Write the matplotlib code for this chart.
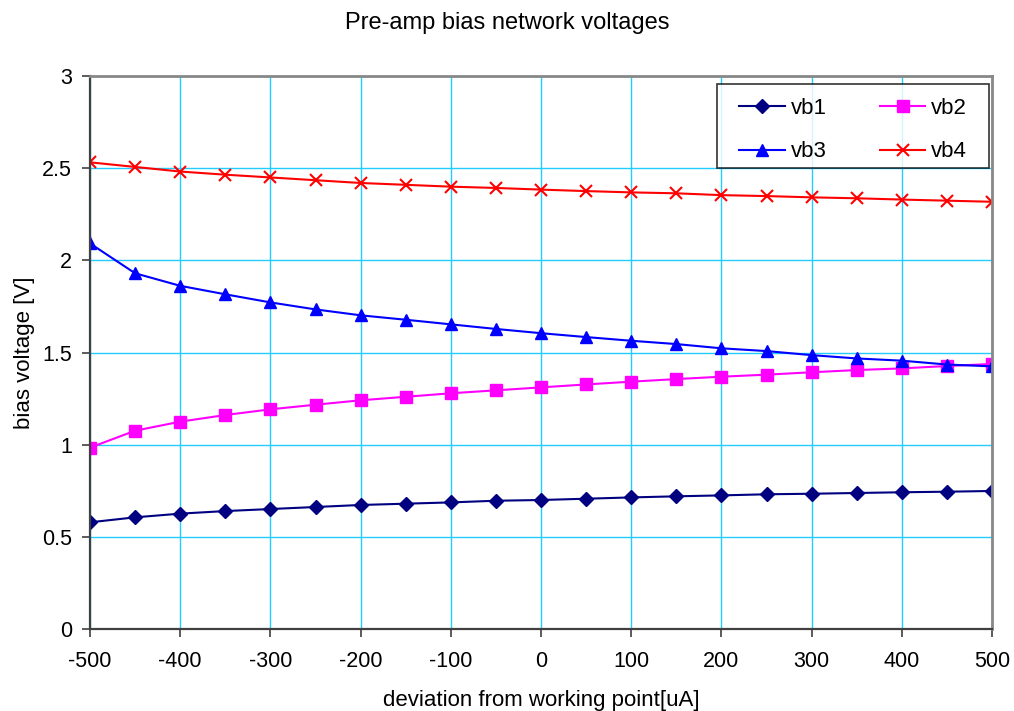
import matplotlib.pyplot as plt
from matplotlib.path import Path

plt.rcParams['font.family'] = ['Liberation Sans', 'DejaVu Sans']
plt.rcParams['axes.unicode_minus'] = False

# deviation from working point [uA]
deviation = [-500, -450, -400, -350, -300, -250, -200, -150, -100, -50, 0,
             50, 100, 150, 200, 250, 300, 350, 400, 450, 500]

# bias voltages [V]
vb1 = [0.579, 0.606, 0.626, 0.640, 0.651, 0.662, 0.673, 0.680, 0.687, 0.696, 0.700,
       0.707, 0.714, 0.720, 0.725, 0.731, 0.734, 0.738, 0.742, 0.745, 0.749]
vb2 = [0.984, 1.076, 1.125, 1.161, 1.192, 1.217, 1.241, 1.260, 1.279, 1.295, 1.311,
       1.327, 1.342, 1.356, 1.369, 1.380, 1.393, 1.405, 1.414, 1.427, 1.438]
vb3 = [2.092, 1.930, 1.862, 1.816, 1.772, 1.734, 1.702, 1.678, 1.653, 1.628, 1.605,
       1.584, 1.564, 1.546, 1.523, 1.508, 1.486, 1.468, 1.456, 1.435, 1.425]
vb4 = [2.532, 2.507, 2.482, 2.465, 2.450, 2.435, 2.420, 2.410, 2.400, 2.393, 2.384,
       2.376, 2.369, 2.364, 2.354, 2.349, 2.342, 2.337, 2.330, 2.324, 2.318]

x_ticks = list(range(-500, 501, 100))
y_ticks = [0, 0.5, 1, 1.5, 2, 2.5, 3]
y_ticklabels = ['0', '0.5', '1', '1.5', '2', '2.5', '3']


def wide_box(x0, y0, width, height, mutation_size, dx=11, top=3, bottom=-6):
    # plain rectangle with extra room left/right, tighter at the bottom
    x0, x1 = x0 - dx, x0 + width + dx
    y0, y1 = y0 - bottom, y0 + height + top
    verts = [(x0, y0), (x1, y0), (x1, y1), (x0, y1), (x0, y0)]
    codes = [Path.MOVETO] + [Path.LINETO] * 3 + [Path.CLOSEPOLY]
    return Path(verts, codes)


fig = plt.figure(figsize=(10.14, 7.11), dpi=100)
ax = fig.add_axes([0.0888, 0.1153, 0.8895, 0.7777])

l1, = ax.plot(deviation, vb1, color='#000080', marker='D', markersize=7.5, lw=1.5, label='vb1')
l2, = ax.plot(deviation, vb2, color='#FF00FF', marker='s', markersize=9, lw=1.5, label='vb2')
l3, = ax.plot(deviation, vb3, color='#0000FF', marker='^', markersize=9, lw=1.5, label='vb3')
l4, = ax.plot(deviation, vb4, color='#FF0000', marker='x', markersize=9, mew=1.5, lw=1.5, label='vb4')

ax.set_xlim(-500, 500)
ax.set_ylim(0, 3)
ax.set_xticks(x_ticks)
ax.set_yticks(y_ticks)
ax.set_yticklabels(y_ticklabels)
ax.grid(True, color='#22CCFF', lw=1)
ax.set_axisbelow(True)
ax.tick_params(labelsize=15.5, direction='out', length=6, color='#404040', width=1.2)
ax.tick_params(axis='x', pad=10)
ax.tick_params(axis='y', pad=7)

for side in ['left', 'bottom']:
    ax.spines[side].set_color('#404040')
    ax.spines[side].set_linewidth(1.6)
for side in ['right', 'top']:
    ax.spines[side].set_color('#888888')
    ax.spines[side].set_linewidth(2)

ax.set_xlabel('deviation from working point[uA]', fontsize=16, labelpad=13)
ax.set_ylabel('bias voltage [V]', fontsize=16, labelpad=5)
fig.text(0.5, 0.967, 'Pre-amp bias network voltages', fontsize=17,
         ha='center', va='center')

# row-major legend: vb1 vb2 / vb3 vb4
leg = ax.legend([l1, l3, l2, l4], ['vb1', 'vb3', 'vb2', 'vb4'], ncol=2,
                loc='upper right', bbox_to_anchor=(0.9845, 0.9801), borderaxespad=0,
                fontsize=16, frameon=True, fancybox=False, edgecolor='black',
                borderpad=0.5, handlelength=2.05, handletextpad=0.25,
                columnspacing=2.4, labelspacing=1.0)
leg.get_frame().set_linewidth(1.2)
leg.get_frame().set_boxstyle(wide_box)

fig.savefig('out.png', dpi=100)
